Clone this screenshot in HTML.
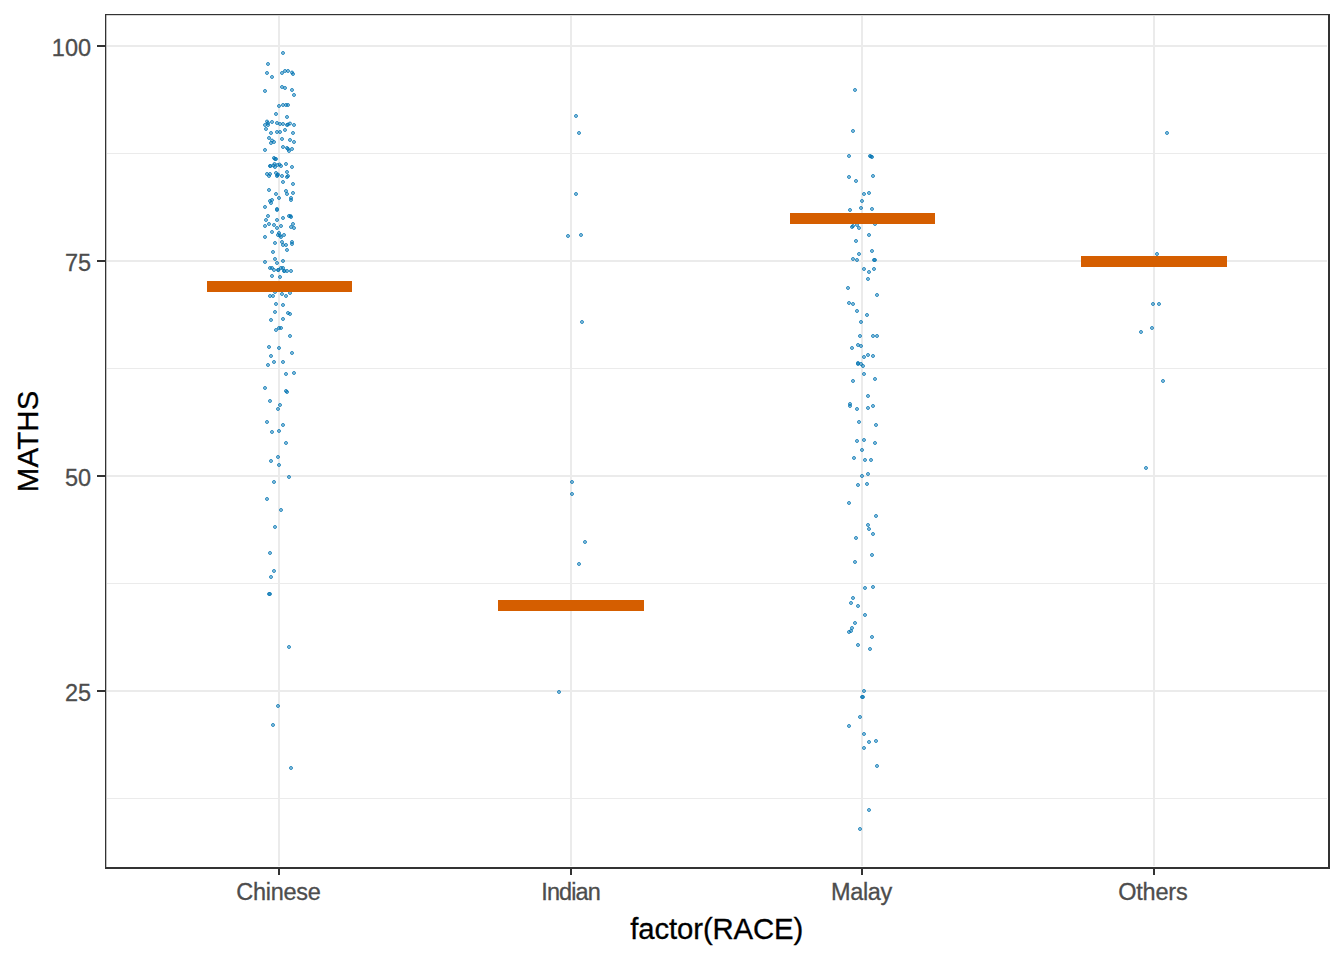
<!DOCTYPE html>
<html><head><meta charset="utf-8"><title>MATHS by RACE</title>
<style>
html,body{margin:0;padding:0;background:#fff;}
body{width:1344px;height:960px;overflow:hidden;font-family:"Liberation Sans",sans-serif;}
svg{display:block;}
text{font-family:"Liberation Sans",sans-serif;}
.at{font-size:23.47px;fill:#4D4D4D;stroke:#4D4D4D;stroke-width:.3px;}
.tt{font-size:29.33px;fill:#000;stroke:#000;stroke-width:.3px;}
.d{fill:#0072B2;fill-opacity:.36;stroke:#0072B2;stroke-opacity:.85;stroke-width:.96;}
</style></head><body>
<svg width="1344" height="960" viewBox="0 0 1344 960">
<rect x="0" y="0" width="1344" height="960" fill="#fff"/>
<g fill="#EBEBEB">
<rect x="107" y="153.00" width="1220" height="1"/>
<rect x="107" y="368.00" width="1220" height="1"/>
<rect x="107" y="583.00" width="1220" height="1"/>
<rect x="107" y="798.00" width="1220" height="1"/>
<rect x="107" y="45.00" width="1220" height="2"/>
<rect x="107" y="260.00" width="1220" height="2"/>
<rect x="107" y="475.00" width="1220" height="2"/>
<rect x="107" y="690.00" width="1220" height="2"/>
<rect x="278" y="16" width="2" height="850"/>
<rect x="570" y="16" width="2" height="850"/>
<rect x="861" y="16" width="2" height="850"/>
<rect x="1153" y="16" width="2" height="850"/>
</g>
<g class="d">
<circle cx="283" cy="53" r="1.48"/><circle cx="268" cy="64" r="1.48"/><circle cx="267" cy="73" r="1.48"/><circle cx="272" cy="77" r="1.48"/><circle cx="282" cy="73" r="1.48"/><circle cx="285" cy="71" r="1.48"/><circle cx="288" cy="71" r="1.48"/><circle cx="292" cy="72.5" r="1.48"/><circle cx="293" cy="74" r="1.48"/><circle cx="282" cy="87" r="1.48"/><circle cx="285" cy="88" r="1.48"/><circle cx="292" cy="90" r="1.48"/><circle cx="294" cy="95" r="1.48"/><circle cx="265" cy="91" r="1.48"/><circle cx="278" cy="706" r="1.48"/><circle cx="273" cy="725" r="1.48"/><circle cx="291" cy="768" r="1.48"/><circle cx="279" cy="106" r="1.48"/><circle cx="283" cy="105" r="1.48"/><circle cx="286" cy="105" r="1.48"/><circle cx="288" cy="105" r="1.48"/><circle cx="276" cy="114" r="1.48"/><circle cx="287" cy="117" r="1.48"/><circle cx="267" cy="121.5" r="1.48"/><circle cx="268" cy="123" r="1.48"/><circle cx="265" cy="125" r="1.48"/><circle cx="268" cy="125" r="1.48"/><circle cx="272" cy="122" r="1.48"/><circle cx="277" cy="123" r="1.48"/><circle cx="280" cy="124" r="1.48"/><circle cx="283" cy="124" r="1.48"/><circle cx="287" cy="125" r="1.48"/><circle cx="288" cy="124.5" r="1.48"/><circle cx="290" cy="123.5" r="1.48"/><circle cx="294" cy="125" r="1.48"/><circle cx="266" cy="129" r="1.48"/><circle cx="285" cy="130" r="1.48"/><circle cx="271" cy="133" r="1.48"/><circle cx="277" cy="132" r="1.48"/><circle cx="280" cy="132" r="1.48"/><circle cx="293" cy="133" r="1.48"/><circle cx="269" cy="138" r="1.48"/><circle cx="282" cy="139" r="1.48"/><circle cx="290" cy="140" r="1.48"/><circle cx="294" cy="142" r="1.48"/><circle cx="272" cy="140.5" r="1.48"/><circle cx="274" cy="142" r="1.48"/><circle cx="271" cy="143" r="1.48"/><circle cx="283" cy="147" r="1.48"/><circle cx="287" cy="148" r="1.48"/><circle cx="289" cy="151" r="1.48"/><circle cx="292" cy="149" r="1.48"/><circle cx="288" cy="149" r="1.48"/><circle cx="265" cy="150" r="1.48"/><circle cx="274" cy="158" r="1.48"/><circle cx="276" cy="159" r="1.48"/><circle cx="270" cy="166" r="1.48"/><circle cx="274.5" cy="164" r="1.48"/><circle cx="275" cy="167" r="1.48"/><circle cx="277.5" cy="165" r="1.48"/><circle cx="279.5" cy="164.5" r="1.48"/><circle cx="281" cy="166" r="1.48"/><circle cx="286" cy="164" r="1.48"/><circle cx="292" cy="167" r="1.48"/><circle cx="287" cy="172" r="1.48"/><circle cx="267" cy="174" r="1.48"/><circle cx="270" cy="174" r="1.48"/><circle cx="269" cy="176" r="1.48"/><circle cx="276" cy="173" r="1.48"/><circle cx="277.5" cy="175" r="1.48"/><circle cx="277" cy="176" r="1.48"/><circle cx="282" cy="176" r="1.48"/><circle cx="288" cy="176" r="1.48"/><circle cx="287" cy="177" r="1.48"/><circle cx="283" cy="182" r="1.48"/><circle cx="293" cy="184" r="1.48"/><circle cx="269" cy="190" r="1.48"/><circle cx="276" cy="194" r="1.48"/><circle cx="286" cy="191" r="1.48"/><circle cx="287" cy="194" r="1.48"/><circle cx="293" cy="193" r="1.48"/><circle cx="279" cy="198" r="1.48"/><circle cx="291" cy="198" r="1.48"/><circle cx="291" cy="200" r="1.48"/><circle cx="272" cy="200" r="1.48"/><circle cx="270" cy="201" r="1.48"/><circle cx="271" cy="203" r="1.48"/><circle cx="265" cy="207" r="1.48"/><circle cx="268" cy="216" r="1.48"/><circle cx="266" cy="220" r="1.48"/><circle cx="277" cy="220" r="1.48"/><circle cx="283" cy="218" r="1.48"/><circle cx="289" cy="216" r="1.48"/><circle cx="290.5" cy="216" r="1.48"/><circle cx="291" cy="217" r="1.48"/><circle cx="269" cy="224" r="1.48"/><circle cx="265" cy="226" r="1.48"/><circle cx="274" cy="225" r="1.48"/><circle cx="277" cy="228" r="1.48"/><circle cx="281" cy="226" r="1.48"/><circle cx="293" cy="224" r="1.48"/><circle cx="291" cy="227" r="1.48"/><circle cx="294" cy="228" r="1.48"/><circle cx="272" cy="232" r="1.48"/><circle cx="279" cy="233" r="1.48"/><circle cx="278" cy="235" r="1.48"/><circle cx="280" cy="235.5" r="1.48"/><circle cx="281" cy="237" r="1.48"/><circle cx="284" cy="235" r="1.48"/><circle cx="265" cy="237" r="1.48"/><circle cx="275" cy="243" r="1.48"/><circle cx="282" cy="242" r="1.48"/><circle cx="283" cy="245" r="1.48"/><circle cx="286" cy="245" r="1.48"/><circle cx="292" cy="244" r="1.48"/><circle cx="287" cy="250" r="1.48"/><circle cx="273" cy="252" r="1.48"/><circle cx="275" cy="259" r="1.48"/><circle cx="277" cy="263" r="1.48"/><circle cx="283" cy="261" r="1.48"/><circle cx="265" cy="262" r="1.48"/><circle cx="270" cy="268" r="1.48"/><circle cx="272" cy="268" r="1.48"/><circle cx="274" cy="270" r="1.48"/><circle cx="278" cy="270" r="1.48"/><circle cx="281" cy="268" r="1.48"/><circle cx="283" cy="268" r="1.48"/><circle cx="284" cy="271" r="1.48"/><circle cx="291" cy="271" r="1.48"/><circle cx="272" cy="276" r="1.48"/><circle cx="280" cy="277" r="1.48"/><circle cx="275" cy="292" r="1.48"/><circle cx="290" cy="293" r="1.48"/><circle cx="282" cy="294" r="1.48"/><circle cx="270" cy="296" r="1.48"/><circle cx="273" cy="296" r="1.48"/><circle cx="286" cy="296" r="1.48"/><circle cx="276" cy="304" r="1.48"/><circle cx="283" cy="305" r="1.48"/><circle cx="275" cy="312" r="1.48"/><circle cx="288" cy="313" r="1.48"/><circle cx="290" cy="314" r="1.48"/><circle cx="271" cy="320" r="1.48"/><circle cx="283" cy="319" r="1.48"/><circle cx="276" cy="330" r="1.48"/><circle cx="279" cy="328" r="1.48"/><circle cx="281" cy="328" r="1.48"/><circle cx="290" cy="336" r="1.48"/><circle cx="269" cy="347" r="1.48"/><circle cx="279" cy="348" r="1.48"/><circle cx="292" cy="353" r="1.48"/><circle cx="271" cy="356" r="1.48"/><circle cx="274" cy="362" r="1.48"/><circle cx="283" cy="362" r="1.48"/><circle cx="268" cy="365" r="1.48"/><circle cx="286" cy="374" r="1.48"/><circle cx="294" cy="373" r="1.48"/><circle cx="265" cy="388" r="1.48"/><circle cx="286" cy="391" r="1.48"/><circle cx="287" cy="392" r="1.48"/><circle cx="270" cy="401" r="1.48"/><circle cx="280" cy="405" r="1.48"/><circle cx="278" cy="409" r="1.48"/><circle cx="267" cy="422" r="1.48"/><circle cx="283" cy="425" r="1.48"/><circle cx="272" cy="432" r="1.48"/><circle cx="279" cy="431" r="1.48"/><circle cx="286" cy="443" r="1.48"/><circle cx="278" cy="457" r="1.48"/><circle cx="271" cy="461" r="1.48"/><circle cx="279" cy="465" r="1.48"/><circle cx="289" cy="477" r="1.48"/><circle cx="274" cy="482" r="1.48"/><circle cx="267" cy="499" r="1.48"/><circle cx="281" cy="510" r="1.48"/><circle cx="275" cy="527" r="1.48"/><circle cx="270" cy="553" r="1.48"/><circle cx="274" cy="571" r="1.48"/><circle cx="271" cy="577" r="1.48"/><circle cx="269" cy="594" r="1.48"/><circle cx="270" cy="594" r="1.48"/><circle cx="289" cy="647" r="1.48"/><circle cx="576" cy="116" r="1.48"/><circle cx="579" cy="133" r="1.48"/><circle cx="576" cy="194" r="1.48"/><circle cx="568" cy="236" r="1.48"/><circle cx="581" cy="235" r="1.48"/><circle cx="582" cy="322" r="1.48"/><circle cx="572" cy="482" r="1.48"/><circle cx="572" cy="494" r="1.48"/><circle cx="585" cy="542" r="1.48"/><circle cx="579" cy="564" r="1.48"/><circle cx="559" cy="692" r="1.48"/><circle cx="855" cy="90" r="1.48"/><circle cx="853" cy="131" r="1.48"/><circle cx="849" cy="156" r="1.48"/><circle cx="870" cy="156" r="1.48"/><circle cx="871" cy="156.5" r="1.48"/><circle cx="872" cy="157" r="1.48"/><circle cx="849" cy="177" r="1.48"/><circle cx="856" cy="181" r="1.48"/><circle cx="873" cy="176" r="1.48"/><circle cx="864" cy="194" r="1.48"/><circle cx="869" cy="193" r="1.48"/><circle cx="862" cy="201" r="1.48"/><circle cx="861" cy="208" r="1.48"/><circle cx="872" cy="209" r="1.48"/><circle cx="850" cy="210" r="1.48"/><circle cx="852" cy="227" r="1.48"/><circle cx="853" cy="226" r="1.48"/><circle cx="857" cy="225" r="1.48"/><circle cx="859" cy="228" r="1.48"/><circle cx="875" cy="224" r="1.48"/><circle cx="869" cy="235" r="1.48"/><circle cx="856" cy="241" r="1.48"/><circle cx="872" cy="251" r="1.48"/><circle cx="859" cy="254" r="1.48"/><circle cx="853" cy="259" r="1.48"/><circle cx="857" cy="260" r="1.48"/><circle cx="874" cy="260" r="1.48"/><circle cx="875" cy="260" r="1.48"/><circle cx="864" cy="269" r="1.48"/><circle cx="874" cy="269" r="1.48"/><circle cx="869" cy="272" r="1.48"/><circle cx="868" cy="279" r="1.48"/><circle cx="848" cy="288" r="1.48"/><circle cx="877" cy="295" r="1.48"/><circle cx="849" cy="303" r="1.48"/><circle cx="853" cy="304" r="1.48"/><circle cx="857" cy="311" r="1.48"/><circle cx="867" cy="315" r="1.48"/><circle cx="861" cy="322" r="1.48"/><circle cx="860" cy="336" r="1.48"/><circle cx="873" cy="336" r="1.48"/><circle cx="877" cy="336" r="1.48"/><circle cx="858" cy="345" r="1.48"/><circle cx="861" cy="346" r="1.48"/><circle cx="852" cy="348" r="1.48"/><circle cx="868" cy="355" r="1.48"/><circle cx="873" cy="356" r="1.48"/><circle cx="864" cy="357" r="1.48"/><circle cx="858" cy="363" r="1.48"/><circle cx="858" cy="364" r="1.48"/><circle cx="861" cy="364" r="1.48"/><circle cx="863" cy="366" r="1.48"/><circle cx="864" cy="374" r="1.48"/><circle cx="875" cy="379" r="1.48"/><circle cx="853" cy="381" r="1.48"/><circle cx="868" cy="396" r="1.48"/><circle cx="850" cy="404" r="1.48"/><circle cx="850" cy="406" r="1.48"/><circle cx="873" cy="406" r="1.48"/><circle cx="868" cy="408" r="1.48"/><circle cx="857" cy="409" r="1.48"/><circle cx="859" cy="422" r="1.48"/><circle cx="876" cy="425" r="1.48"/><circle cx="857" cy="441" r="1.48"/><circle cx="864" cy="440" r="1.48"/><circle cx="875" cy="443" r="1.48"/><circle cx="862" cy="450" r="1.48"/><circle cx="854" cy="458" r="1.48"/><circle cx="865" cy="460" r="1.48"/><circle cx="871" cy="460" r="1.48"/><circle cx="868" cy="474" r="1.48"/><circle cx="862" cy="476" r="1.48"/><circle cx="867" cy="484" r="1.48"/><circle cx="858" cy="485" r="1.48"/><circle cx="849" cy="503" r="1.48"/><circle cx="876" cy="516" r="1.48"/><circle cx="868" cy="525" r="1.48"/><circle cx="869" cy="529" r="1.48"/><circle cx="873" cy="534" r="1.48"/><circle cx="856" cy="538" r="1.48"/><circle cx="872" cy="555" r="1.48"/><circle cx="855" cy="562" r="1.48"/><circle cx="865" cy="588" r="1.48"/><circle cx="873" cy="587" r="1.48"/><circle cx="853" cy="598" r="1.48"/><circle cx="851" cy="603" r="1.48"/><circle cx="858" cy="606" r="1.48"/><circle cx="865" cy="615" r="1.48"/><circle cx="855" cy="623" r="1.48"/><circle cx="852" cy="628" r="1.48"/><circle cx="851" cy="631" r="1.48"/><circle cx="849" cy="632" r="1.48"/><circle cx="872" cy="637" r="1.48"/><circle cx="858" cy="645" r="1.48"/><circle cx="870" cy="649" r="1.48"/><circle cx="864" cy="691" r="1.48"/><circle cx="862" cy="697" r="1.48"/><circle cx="863" cy="697" r="1.48"/><circle cx="860" cy="717" r="1.48"/><circle cx="849" cy="726" r="1.48"/><circle cx="864" cy="734" r="1.48"/><circle cx="869" cy="742" r="1.48"/><circle cx="876" cy="741" r="1.48"/><circle cx="864" cy="748" r="1.48"/><circle cx="877" cy="766" r="1.48"/><circle cx="869" cy="810" r="1.48"/><circle cx="860" cy="829" r="1.48"/><circle cx="1167" cy="133" r="1.48"/><circle cx="1157" cy="254" r="1.48"/><circle cx="1153" cy="304" r="1.48"/><circle cx="1159" cy="304" r="1.48"/><circle cx="1152" cy="328" r="1.48"/><circle cx="1141" cy="332" r="1.48"/><circle cx="1163" cy="381" r="1.48"/><circle cx="1146" cy="468" r="1.48"/><circle cx="275" cy="159" r="1.48"/><circle cx="270.5" cy="166" r="1.48"/><circle cx="273.5" cy="165.5" r="1.48"/><circle cx="278" cy="174.5" r="1.48"/><circle cx="277" cy="209" r="1.48"/><circle cx="277" cy="210" r="1.48"/><circle cx="292" cy="242" r="1.48"/><circle cx="278.5" cy="270" r="1.48"/><circle cx="284.5" cy="271" r="1.48"/><circle cx="287" cy="271" r="1.48"/>
</g>
<g fill="#D55E00">
<rect x="207" y="281.0" width="145" height="11"/>
<rect x="498" y="600.0" width="146" height="11"/>
<rect x="790" y="213.0" width="145" height="11"/>
<rect x="1081" y="256.0" width="146" height="11"/>
</g>
<g fill="#333">
<rect x="105" y="14" width="1.3" height="855"/>
<rect x="105" y="14" width="1225" height="1.2"/>
<rect x="1328" y="14" width="2" height="855"/>
<rect x="105" y="867" width="1225" height="2"/>
<rect x="97" y="45.00" width="8" height="2"/>
<rect x="97" y="260.00" width="8" height="2"/>
<rect x="97" y="475.00" width="8" height="2"/>
<rect x="97" y="690.00" width="8" height="2"/>
<rect x="278" y="869" width="2" height="6"/>
<rect x="570" y="869" width="2" height="6"/>
<rect x="861" y="869" width="2" height="6"/>
<rect x="1153" y="869" width="2" height="6"/>
</g>
<text class="at" x="91" y="56.00" text-anchor="end">100</text>
<text class="at" x="91" y="271.00" text-anchor="end">75</text>
<text class="at" x="91" y="486.00" text-anchor="end">50</text>
<text class="at" x="91" y="701.00" text-anchor="end">25</text>
<text class="at" x="278.5" y="900.3" text-anchor="middle" textLength="84.6" lengthAdjust="spacing">Chinese</text>
<text class="at" x="571.0" y="900.3" text-anchor="middle" textLength="59.4" lengthAdjust="spacing">Indian</text>
<text class="at" x="861.6" y="900.3" text-anchor="middle" textLength="61.1" lengthAdjust="spacing">Malay</text>
<text class="at" x="1152.9" y="900.3" text-anchor="middle" textLength="69.5" lengthAdjust="spacing">Others</text>
<text class="tt" x="716.8" y="938.5" text-anchor="middle" textLength="172.9" lengthAdjust="spacing">factor(RACE)</text>
<text class="tt" transform="translate(37.9,441.4) rotate(-90) scale(1,1.035)" text-anchor="middle" textLength="101.5" lengthAdjust="spacing">MATHS</text>
</svg>
</body></html>
